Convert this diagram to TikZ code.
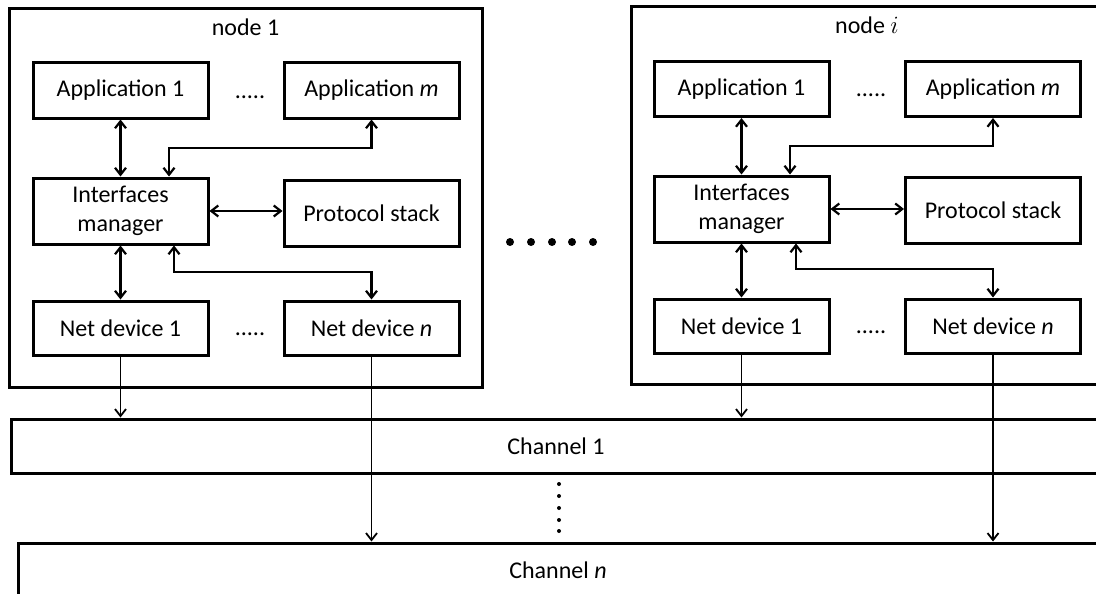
\documentclass[tikz,border=0pt]{standalone}
\usepackage{fontspec}
\setmainfont{Carlito}
\usetikzlibrary{arrows.meta}

\begin{document}
\begin{tikzpicture}[x=1pt,y=1pt,yscale=-1,
  font=\fontsize{24}{29}\selectfont,
  box/.style={draw,line width=3pt,inner sep=0pt,minimum width=175pt,align=center},
  frame/.style={draw,line width=3pt,inner sep=0pt},
  arr/.style={line width=1.8pt,-{Straight Barb[length=7pt,width=11pt]}},
  darr/.style={line width=2.2pt,{Straight Barb[length=7pt,width=11pt]}-{Straight Barb[length=7pt,width=11pt]}}]
\useasboundingbox (0,0) rectangle (1096,594);

%node 1
\node [frame,minimum width=473pt,minimum height=378pt] (nodea) at (245.5,198) {};
\node (nodealab) at (245.5,27) {node 1};
\node [box,minimum height=55pt] (appa) at (120.5,90.5) {Application 1};
\node [box,minimum height=55pt] (appma) at (371.5,90.5) {Application \textit{m}};
\node [anchor=base] (dotsa) at (250,99) {.....};
\node [box,minimum height=66pt] (ima) at (120.5,211) {Interfaces\\manager};
\node [box,minimum height=66pt] (psa) at (371.5,213) {Protocol stack};
\node [box,minimum height=54pt] (nda) at (120.5,328) {Net device 1};
\node [box,minimum height=54pt] (ndna) at (371.5,328) {Net device \textit{n}};
\node [anchor=base] (dotsb) at (250,335) {.....};
\coordinate (ja) at (169,148);
\coordinate (ka) at (174,272);

%node i
\node [frame,minimum width=472pt,minimum height=377pt] (nodei) at (867,195.5) {};
\node (nodeilab) at (867,25) {node $i$};
\node [box,minimum height=55pt] (appi) at (741.5,89) {Application 1};
\node [box,minimum height=55pt] (appmi) at (993,89) {Application \textit{m}};
\node [anchor=base] (dotsc) at (871,97) {.....};
\node [box,minimum height=66pt] (imi) at (741.5,209) {Interfaces\\manager};
\node [box,minimum height=66pt] (psi) at (993,210.5) {Protocol stack};
\node [box,minimum height=54pt] (ndi) at (741.5,326) {Net device 1};
\node [box,minimum height=54pt] (ndni) at (993,326) {Net device \textit{n}};
\node [anchor=base] (dotsd) at (871,333) {.....};
\coordinate (ji) at (790,146);
\coordinate (ki) at (796,269);

%channels
\node [frame,minimum width=1090pt,minimum height=54pt] (cha) at (556,446) {Channel 1};
\node [frame,minimum width=1080pt,minimum height=54pt] (chn) at (558,570) {Channel \textit{n}};

%dots
\fill (510,242) circle [radius=4pt] (531,242) circle [radius=4pt] (552,242) circle [radius=4pt] (572,242) circle [radius=4pt] (593,242) circle [radius=4pt];
\fill (559,484) circle [radius=2pt] (559,496) circle [radius=2pt] (559,508) circle [radius=2pt] (559,520) circle [radius=2pt] (559,531) circle [radius=2pt];

% Connections node 1
\draw [darr] (appa.south) -- (ima.north);
\draw [darr] (appma.south) |- (ja) -- (ja |- ima.north);
\draw [darr] (ima.east) -- (ima.east -| psa.west);
\draw [darr] (ima.south) -- (nda.north);
\draw [darr] (ka |- ima.south) -- (ka) -| (ndna.north);
\draw [arr] (nda.south) -- (nda.south |- cha.north);
\draw [arr] (ndna.south) -- (ndna.south |- chn.north);

% Connections node i
\draw [darr] (appi.south) -- (imi.north);
\draw [darr] (appmi.south) |- (ji) -- (ji |- imi.north);
\draw [darr] (imi.east) -- (imi.east -| psi.west);
\draw [darr] (imi.south) -- (ndi.north);
\draw [darr] (ki |- imi.south) -- (ki) -| (ndni.north);
\draw [arr] (ndi.south) -- (ndi.south |- cha.north);
\draw [arr] (ndni.south) -- (ndni.south |- chn.north);

\end{tikzpicture}
\end{document}
